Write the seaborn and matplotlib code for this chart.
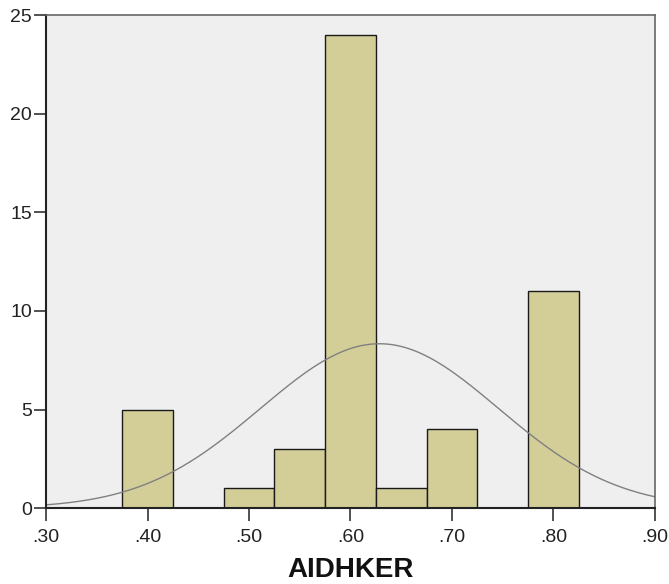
import numpy as np
import pandas as pd
import matplotlib
matplotlib.use("Agg")
import matplotlib.pyplot as plt
import seaborn as sns

# Histogram data (bin centres and counts)
bin_centres = [0.40, 0.50, 0.55, 0.60, 0.65, 0.70, 0.80]
counts = [5, 1, 3, 24, 1, 4, 11]
x_ticks = [0.30, 0.40, 0.50, 0.60, 0.70, 0.80, 0.90]
x_labels = [".30", ".40", ".50", ".60", ".70", ".80", ".90"]
y_ticks = [0, 5, 10, 15, 20, 25]

df = pd.DataFrame({"AIDHKER": bin_centres, "n": counts})
bin_width = 0.05

sns.set_style("ticks")
plt.rcParams["font.family"] = ["Liberation Sans", "DejaVu Sans"]

fig = plt.figure(figsize=(6.69, 5.84), dpi=100)
ax = fig.add_axes([0.0688, 0.130, 0.9102, 0.844])
ax.set_facecolor("#efefef")

sns.histplot(data=df, x="AIDHKER", weights="n", binwidth=bin_width,
             binrange=(0.375, 0.825), color="#d3ce98", alpha=1,
             edgecolor="#1a1a1a", linewidth=1.0, ax=ax)

# fitted normal curve from the data
vals = np.repeat(df["AIDHKER"].values, df["n"].values)
mu, sd = vals.mean(), vals.std(ddof=1)
xs = np.linspace(0.30, 0.90, 300)
ys = len(vals) * bin_width * np.exp(-0.5 * ((xs - mu) / sd) ** 2) / (sd * np.sqrt(2 * np.pi))
sns.lineplot(x=xs, y=ys, color="#808080", linewidth=1.0, ax=ax)

ax.set_xlim(0.30, 0.90)
ax.set_ylim(0, 25)
ax.set_xticks(x_ticks)
ax.set_xticklabels(x_labels)
ax.set_yticks(y_ticks)
ax.tick_params(axis="both", direction="out", length=9, width=1.2,
               color="#333333", labelsize=14, labelcolor="#222222")
ax.tick_params(axis="x", pad=6)
ax.tick_params(axis="y", pad=1)
ax.set_ylabel("")
ax.set_xlabel("AIDHKER", fontsize=20, fontweight="bold", color="#111111", labelpad=8)

for side in ["left", "bottom"]:
    ax.spines[side].set_color("#222222")
    ax.spines[side].set_linewidth(1.5)
for side in ["top", "right"]:
    ax.spines[side].set_visible(True)
    ax.spines[side].set_color("#666666")
    ax.spines[side].set_linewidth(1.2)

fig.savefig("out.png", dpi=100)
